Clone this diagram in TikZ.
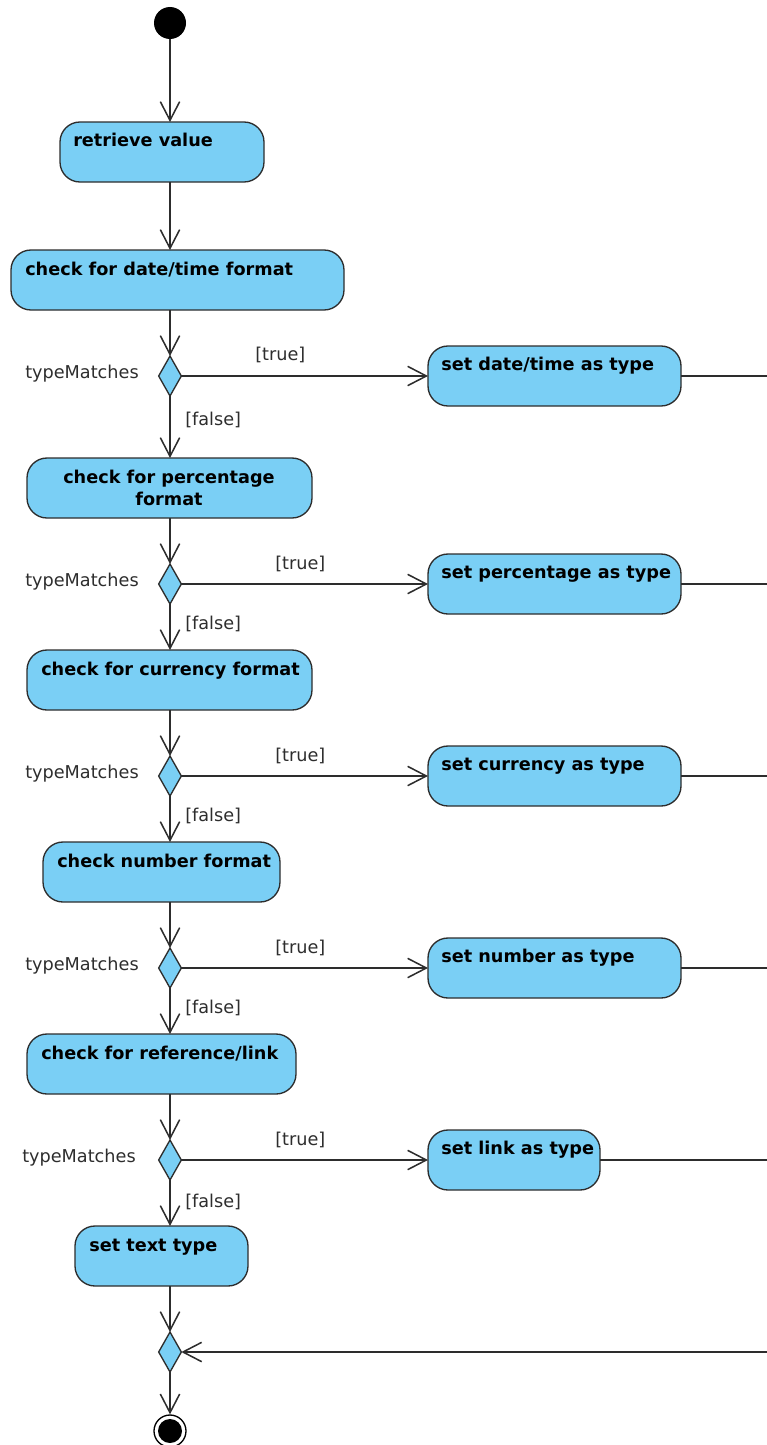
\documentclass[tikz,border=0pt]{standalone}
\usepackage{fontspec}
\setmainfont{DejaVu Sans}
\usetikzlibrary{arrows.meta,shapes.geometric}
\definecolor{actblue}{RGB}{122,207,245}
\definecolor{edge}{RGB}{45,45,45}
\tikzset{
  act/.style={draw=edge, fill=actblue, rounded corners=15pt, line width=1pt, inner sep=0pt, outer sep=0pt, anchor=north west, minimum height=45pt},
  acttext/.style={font=\bfseries\fontsize{13.25}{16.5}\selectfont, text=black, inner sep=0pt, anchor=base west},
  lbl/.style={font=\fontsize{13.25}{16}\selectfont, text=edge, inner sep=0pt, anchor=base west},
  dec/.style={diamond, draw=edge, fill=actblue, line width=1pt, minimum width=17pt, minimum height=30pt, inner sep=0pt, outer sep=0pt},
  flow/.style={draw=edge, line width=1.15pt, -{Straight Barb[length=14pt,width=14.5pt]}},
  plain/.style={draw=edge, line width=1.15pt},
}
\begin{document}
\begin{tikzpicture}[x=0.75pt,y=-0.75pt]
\useasboundingbox (0,0) rectangle (767,1445);
\coordinate (rx) at (767,0);
% start
\node[circle, fill=black, minimum size=24pt, inner sep=0pt] (s) at (170,23) {};
% actions (left column)
\node[act, minimum width=153pt] (b1) at (60,122) {};
\node[acttext] (t1) at (73,146) {retrieve value};
\node[act, minimum width=249.75pt] (b2) at (11,250) {};
\node[acttext] (t2) at (25,275) {check for date/time format};
\node[act, minimum width=213.75pt] (b3) at (27,458) {};
\node[acttext, anchor=north, align=center] (t3) at (169,470) {check for percentage\\format};
\node[act, minimum width=213.75pt] (b4) at (27,650) {};
\node[acttext] (t4) at (41,675) {check for currency format};
\node[act, minimum width=177.75pt] (b5) at (43,842) {};
\node[acttext] (t5) at (57,867) {check number format};
\node[act, minimum width=201.75pt] (b6) at (27,1034) {};
\node[acttext] (t6) at (41,1059) {check for reference/link};
\node[act, minimum width=129.75pt] (b7) at (75,1226) {};
\node[acttext] (t7) at (89,1251) {set text type};
% actions (right column)
\node[act, minimum width=189.75pt] (a1) at (428,346) {};
\node[acttext] (u1) at (441,370) {set date/time as type};
\node[act, minimum width=189.75pt] (a2) at (428,554) {};
\node[acttext] (u2) at (441,578) {set percentage as type};
\node[act, minimum width=189.75pt] (a3) at (428,746) {};
\node[acttext] (u3) at (441,770) {set currency as type};
\node[act, minimum width=189.75pt] (a4) at (428,938) {};
\node[acttext] (u4) at (441,962) {set number as type};
\node[act, minimum width=129pt] (a5) at (428,1130) {};
\node[acttext] (u5) at (441,1154) {set link as type};
% decisions
\node[dec] (d1) at (170,376) {};
\node[dec] (d2) at (170,584) {};
\node[dec] (d3) at (170,776) {};
\node[dec] (d4) at (170,968) {};
\node[dec] (d5) at (170,1160) {};
\node[dec] (dm) at (170,1352) {};
% end
\node[circle, draw=black, fill=white, line width=1pt, minimum size=24pt, inner sep=0pt] (e) at (170,1431) {};
\node[circle, fill=black, minimum size=18pt, inner sep=0pt] (ei) at (170,1431) {};
% labels
\node[lbl] (m1) at (25,378) {typeMatches};
\node[lbl] (m2) at (25,586) {typeMatches};
\node[lbl] (m3) at (25,778) {typeMatches};
\node[lbl] (m4) at (25,970) {typeMatches};
\node[lbl] (m5) at (22,1162) {typeMatches};
\node[lbl] (tr1) at (255,360) {[true]};
\node[lbl] (tr2) at (275,569) {[true]};
\node[lbl] (tr3) at (275,761) {[true]};
\node[lbl] (tr4) at (275,953) {[true]};
\node[lbl] (tr5) at (275,1145) {[true]};
\node[lbl] (f1) at (185,425) {[false]};
\node[lbl] (f2) at (185,629) {[false]};
\node[lbl] (f3) at (185,821) {[false]};
\node[lbl] (f4) at (185,1013) {[false]};
\node[lbl] (f5) at (185,1207) {[false]};
% connectors
\draw[flow] (s) -- (b1.north -| s);
\draw[flow] (b1.south -| s) -- (b2.north -| s);
\draw[flow] (b2.south -| d1) -- (d1.north);
\draw[flow] (d1.east) -- (a1.west);
\draw[flow] (d1.south) -- (b3.north -| d1);
\draw[flow] (b3.south -| d2) -- (d2.north);
\draw[flow] (d2.east) -- (a2.west);
\draw[flow] (d2.south) -- (b4.north -| d2);
\draw[flow] (b4.south -| d3) -- (d3.north);
\draw[flow] (d3.east) -- (a3.west);
\draw[flow] (d3.south) -- (b5.north -| d3);
\draw[flow] (b5.south -| d4) -- (d4.north);
\draw[flow] (d4.east) -- (a4.west);
\draw[flow] (d4.south) -- (b6.north -| d4);
\draw[flow] (b6.south -| d5) -- (d5.north);
\draw[flow] (d5.east) -- (a5.west);
\draw[flow] (d5.south) -- (b7.north -| d5);
\draw[flow] (b7.south -| dm) -- (dm.north);
\draw[flow] (dm.south) -- (e.north);
\draw[plain] (a1.east) -- (a1.east -| rx);
\draw[plain] (a2.east) -- (a2.east -| rx);
\draw[plain] (a3.east) -- (a3.east -| rx);
\draw[plain] (a4.east) -- (a4.east -| rx);
\draw[plain] (a5.east) -- (a5.east -| rx);
\draw[flow] (dm.east -| rx) -- (dm.east);
\end{tikzpicture}
\end{document}
